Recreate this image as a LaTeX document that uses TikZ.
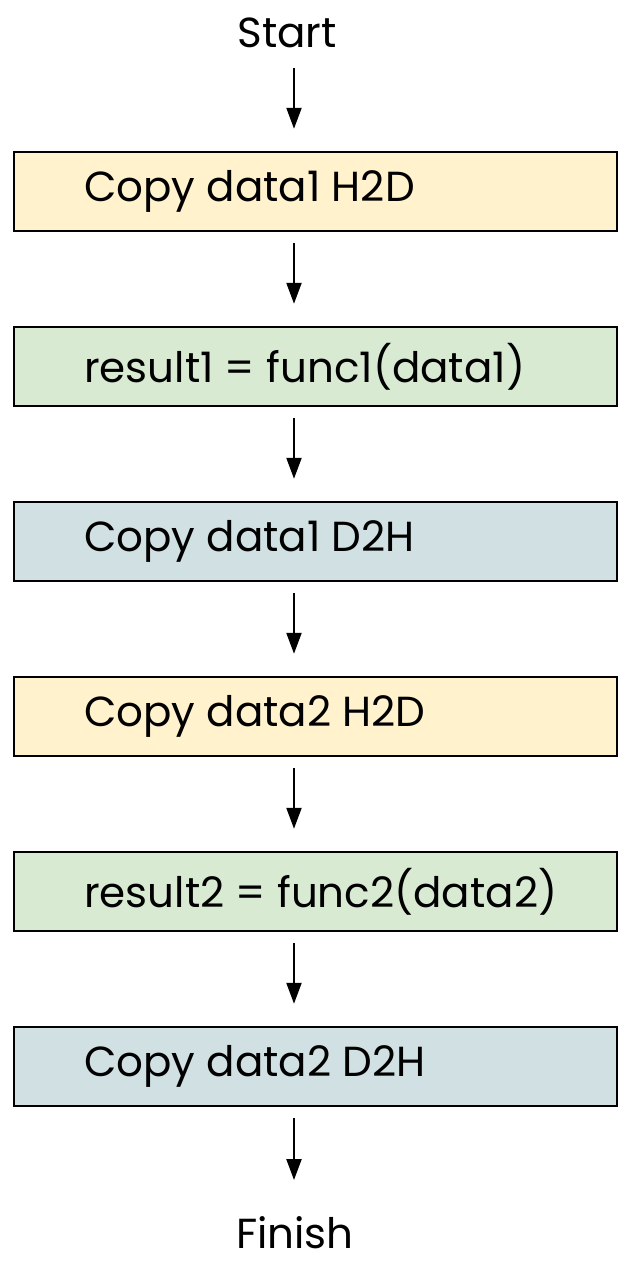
\documentclass[tikz,border=0pt]{standalone}
\usepackage{fontspec}
\setmainfont{Poppins}
\usetikzlibrary{arrows.meta}
\definecolor{cyellow}{HTML}{FFF2CC}
\definecolor{cgreen}{HTML}{D9EAD3}
\definecolor{cblue}{HTML}{D0E0E3}
\tikzset{
  stepbox/.style={draw=black, line width=2.5bp, minimum width=603bp, minimum height=79bp, inner sep=0pt},
  lbl/.style={font=\fontsize{42bp}{48bp}\selectfont, anchor=west, inner sep=0pt},
  term/.style={font=\fontsize{42bp}{48bp}\selectfont, inner sep=0pt},
  conn/.style={line width=2.2bp, -{Triangle[length=21bp,width=15bp]}}
}
\begin{document}
\begin{tikzpicture}[x=1bp,y=-1bp]
\useasboundingbox (0,0) rectangle (632,1267);
\node[term] (start) at (287,33) {Start};
\node[term] (finish) at (295,1233) {Finish};
\foreach \i/\c/\t in {1/cyellow/Copy data1 H2D, 2/cgreen/result1 = func1(data1), 3/cblue/Copy data1 D2H, 4/cyellow/Copy data2 H2D, 5/cgreen/result2 = func2(data2), 6/cblue/Copy data2 D2H}{
  \node[stepbox, fill=\c] (b\i) at (315.5, {191.5+175*(\i-1)}) {};
  \node[lbl] (t\i) at (84, {191.5+175*(\i-1)}) {\t};
}
\coordinate (s0) at (294,68);
\draw[conn] (s0) -- ([yshift=22bp]b1.north -| s0);
\foreach \i/\j in {1/2,2/3,3/4,4/5,5/6}{
  \draw[conn] ([yshift=-11bp]b\i.south -| s0) -- ([yshift=22bp]b\j.north -| s0);
}
\coordinate (f0) at (294,1180);
\draw[conn] ([yshift=-11bp]b6.south -| s0) -- (f0);
\end{tikzpicture}
\end{document}
